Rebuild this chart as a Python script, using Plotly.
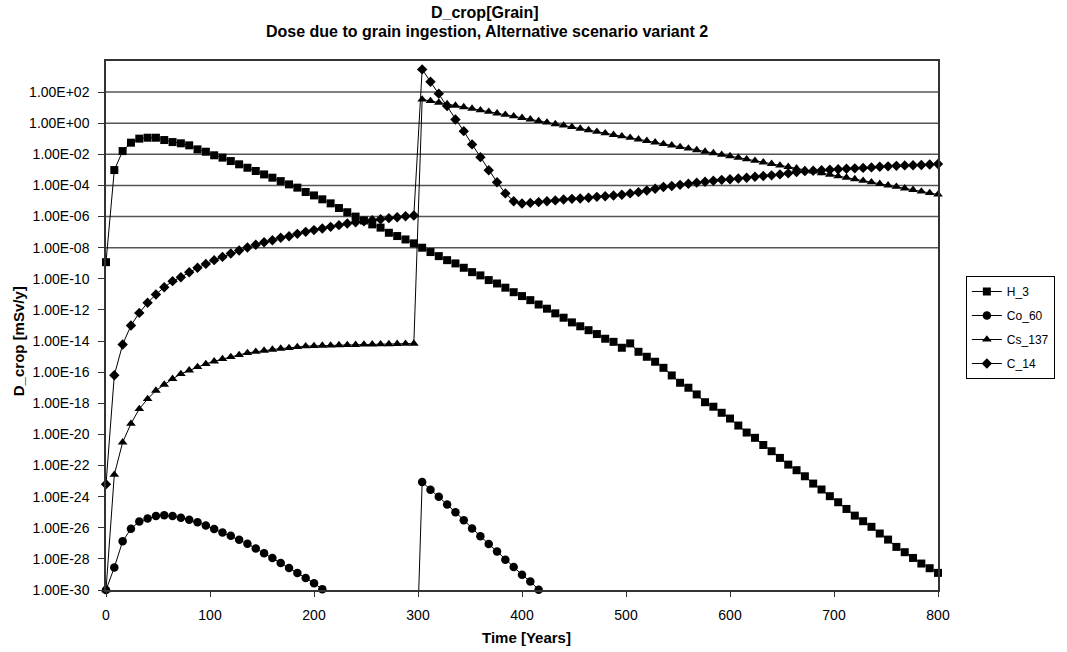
import plotly.graph_objects as go

# ---------------- data ----------------
TIME = [0, 8, 16, 24, 32, 40, 48, 56, 64, 72,
        80, 88, 96, 104, 112, 120, 128, 136, 144, 152,
        160, 168, 176, 184, 192, 200, 208, 216, 224, 232,
        240, 248, 256, 264, 272, 280, 288, 296, 304, 312,
        320, 328, 336, 344, 352, 360, 368, 376, 384, 392,
        400, 408, 416, 424, 432, 440, 448, 456, 464, 472,
        480, 488, 496, 504, 512, 520, 528, 536, 544, 552,
        560, 568, 576, 584, 592, 600, 608, 616, 624, 632,
        640, 648, 656, 664, 672, 680, 688, 696, 704, 712,
        720, 728, 736, 744, 752, 760, 768, 776, 784, 792,
        800]

# dose values given as powers of ten (mSv/y); None = below the plotted range
H3_EXP = [-8.93, -3.01, -1.79, -1.25, -0.99, -0.93, -0.93, -1.08, -1.21, -1.29,
          -1.42, -1.68, -1.83, -2.06, -2.21, -2.43, -2.64, -2.86, -3.07, -3.29,
          -3.50, -3.72, -3.93, -4.14, -4.42, -4.64, -4.89, -5.15, -5.45, -5.72,
          -6.00, -6.25, -6.50, -6.71, -7.04, -7.25, -7.47, -7.72, -8.00, -8.28,
          -8.54, -8.80, -9.01, -9.29, -9.57, -9.78, -10.08, -10.30, -10.57, -10.86,
          -11.11, -11.37, -11.65, -11.92, -12.22, -12.50, -12.80, -13.05, -13.30, -13.55,
          -13.85, -14.05, -14.43, -14.15, -14.69, -15.01, -15.33, -15.72, -16.21, -16.68,
          -17.00, -17.43, -17.93, -18.22, -18.61, -18.98, -19.43, -19.88, -20.22, -20.68,
          -21.08, -21.51, -21.94, -22.30, -22.69, -23.16, -23.54, -23.97, -24.36, -24.79,
          -25.22, -25.58, -25.94, -26.37, -26.76, -27.23, -27.57, -27.94, -28.30, -28.60,
          -28.90]

CO60_EXP = [-30.0, -28.55, -26.87, -26.06, -25.60, -25.40, -25.25, -25.20, -25.25, -25.35,
            -25.48, -25.65, -25.85, -26.08, -26.30, -26.52, -26.77, -27.03, -27.33, -27.63,
            -27.95, -28.27, -28.58, -28.90, -29.23, -29.57, -29.95, None, None, None,
            None, None, None, None, None, None, None, -40.0, -23.06, -23.55,
            -24.00, -24.50, -25.00, -25.52, -26.05, -26.55, -27.05, -27.52, -28.05, -28.52,
            -29.02, -29.45, -29.98, None, None, None, None, None, None, None,
            None, None, None, None, None, None, None, None, None, None,
            None, None, None, None, None, None, None, None, None, None,
            None, None, None, None, None, None, None, None, None, None,
            None, None, None, None, None, None, None, None, None, None,
            None]

CS137_EXP = [-30.0, -22.59, -20.51, -19.31, -18.36, -17.72, -17.18, -16.80, -16.43, -16.11,
             -15.88, -15.66, -15.47, -15.30, -15.15, -15.02, -14.89, -14.76, -14.68, -14.61,
             -14.55, -14.48, -14.44, -14.38, -14.33, -14.31, -14.29, -14.28, -14.26, -14.25,
             -14.24, -14.22, -14.21, -14.20, -14.19, -14.18, -14.17, -14.16, 1.53, 1.43,
             1.33, 1.23, 1.14, 1.04, 0.94, 0.84, 0.74, 0.64, 0.55, 0.45,
             0.35, 0.25, 0.15, 0.05, -0.05, -0.14, -0.24, -0.34, -0.44, -0.54,
             -0.64, -0.74, -0.83, -0.93, -1.03, -1.13, -1.23, -1.33, -1.42, -1.52,
             -1.62, -1.72, -1.82, -1.92, -2.02, -2.11, -2.21, -2.31, -2.41, -2.51,
             -2.61, -2.71, -2.80, -2.90, -3.00, -3.10, -3.20, -3.30, -3.40, -3.49,
             -3.59, -3.69, -3.79, -3.89, -3.99, -4.08, -4.18, -4.28, -4.38, -4.48,
             -4.58]

C14_EXP = [-23.20, -16.20, -14.22, -13.00, -12.19, -11.54, -11.01, -10.54, -10.15, -9.90,
           -9.58, -9.29, -9.04, -8.80, -8.59, -8.37, -8.18, -7.99, -7.81, -7.65,
           -7.52, -7.36, -7.26, -7.11, -6.98, -6.87, -6.77, -6.66, -6.55, -6.44,
           -6.36, -6.30, -6.24, -6.17, -6.10, -6.04, -5.98, -5.93, 3.46, 2.67,
           1.90, 1.10, 0.24, -0.51, -1.36, -2.18, -3.02, -3.79, -4.51, -5.01,
           -5.16, -5.12, -5.07, -5.01, -4.96, -4.90, -4.86, -4.84, -4.79, -4.73,
           -4.69, -4.64, -4.60, -4.51, -4.43, -4.32, -4.21, -4.10, -4.03, -3.96,
           -3.89, -3.82, -3.76, -3.70, -3.64, -3.60, -3.55, -3.50, -3.44, -3.39,
           -3.35, -3.29, -3.22, -3.14, -3.08, -3.05, -3.02, -2.99, -2.96, -2.93,
           -2.90, -2.87, -2.84, -2.80, -2.77, -2.74, -2.71, -2.70, -2.68, -2.65,
           -2.62]

SERIES_NAMES = ["H_3", "Co_60", "Cs_137", "C_14"]
SERIES_EXPS = [H3_EXP, CO60_EXP, CS137_EXP, C14_EXP]

X_TICKS = [0, 100, 200, 300, 400, 500, 600, 700, 800]
Y_TICK_EXPS = [-30, -28, -26, -24, -22, -20, -18, -16, -14, -12, -10, -8, -6, -4, -2, 0, 2]
Y_TICK_TEXT = ["1.00E-30", "1.00E-28", "1.00E-26", "1.00E-24", "1.00E-22", "1.00E-20",
               "1.00E-18", "1.00E-16", "1.00E-14", "1.00E-12", "1.00E-10", "1.00E-08",
               "1.00E-06", "1.00E-04", "1.00E-02", "1.00E+00", "1.00E+02"]
GRID_EXPS = [-8, -6, -4, -2, 0, 2]

TITLE_1 = "D_crop[Grain]"
TITLE_2 = "Dose due to grain ingestion, Alternative scenario variant 2"
X_TITLE = "Time [Years]"
Y_TITLE = "D_crop [mSv/y]"

# ---------------- styles ----------------
SYMBOLS = {"H_3": ("square", 8), "Co_60": ("circle", 8.5),
           "Cs_137": ("triangle-up", 8.5), "C_14": ("diamond", 8)}
FONT = "Liberation Sans, Arial, Helvetica, sans-serif"


def to_dose(exps):
    return [None if e is None else 10.0 ** e for e in exps]


fig = go.Figure()
for name, exps in zip(SERIES_NAMES, SERIES_EXPS):
    sym, size = SYMBOLS[name]
    fig.add_trace(go.Scatter(
        x=TIME, y=to_dose(exps), name=name, mode="lines+markers",
        line=dict(color="black", width=1),
        marker=dict(symbol=sym, size=size, color="black"),
        cliponaxis=False, connectgaps=False, legendgroup=name,
    ))

for e in GRID_EXPS:
    fig.add_shape(type="line", xref="paper", x0=0, x1=1, yref="y",
                  y0=10.0 ** e, y1=10.0 ** e,
                  line=dict(color="#555555", width=1.5), layer="below")

fig.update_layout(
    width=1067, height=652,
    margin=dict(l=106, r=127, t=61, b=62),
    paper_bgcolor="white", plot_bgcolor="white",
    font=dict(family=FONT, color="black", size=14),
    showlegend=True,
    legend=dict(x=1.0335, y=0.5936, xanchor="left", yanchor="top",
                bordercolor="black", borderwidth=1, bgcolor="white",
                font=dict(size=12), tracegroupgap=5, itemwidth=30),
    xaxis=dict(range=[0, 800], tickvals=X_TICKS, ticks="outside", ticklen=5,
               tickcolor="#333333", showline=True, linecolor="#333333", linewidth=1.5,
               mirror=True, showgrid=False, zeroline=False,
               tickfont=dict(size=14), ticklabelstandoff=6),
    yaxis=dict(type="log", range=[-30, 4],
               tickvals=[10.0 ** e for e in Y_TICK_EXPS], ticktext=Y_TICK_TEXT,
               ticks="outside", ticklen=6, tickcolor="#333333",
               showline=True, linecolor="#333333", linewidth=1.5, mirror=True,
               showgrid=False, zeroline=False, tickfont=dict(size=14),
               ticklabelstandoff=6),
    annotations=[
        dict(text="<b>" + TITLE_1 + "</b>", xref="paper", yref="paper",
             x=0.455, y=1.0926, xanchor="center", yanchor="middle",
             showarrow=False, font=dict(size=16)),
        dict(text="<b>" + TITLE_2 + "</b>", xref="paper", yref="paper",
             x=0.4574, y=1.0567, xanchor="center", yanchor="middle",
             showarrow=False, font=dict(size=16)),
        dict(text="<b>" + X_TITLE + "</b>", xref="paper", yref="paper",
             x=0.506, y=-0.0907, xanchor="center", yanchor="middle",
             showarrow=False, font=dict(size=15)),
        dict(text="<b>" + Y_TITLE + "</b>", xref="paper", yref="paper",
             x=-0.1043, y=0.4707, xanchor="center", yanchor="middle",
             textangle=-90, showarrow=False, font=dict(size=15)),
    ],
)

fig.write_html("out.html")
